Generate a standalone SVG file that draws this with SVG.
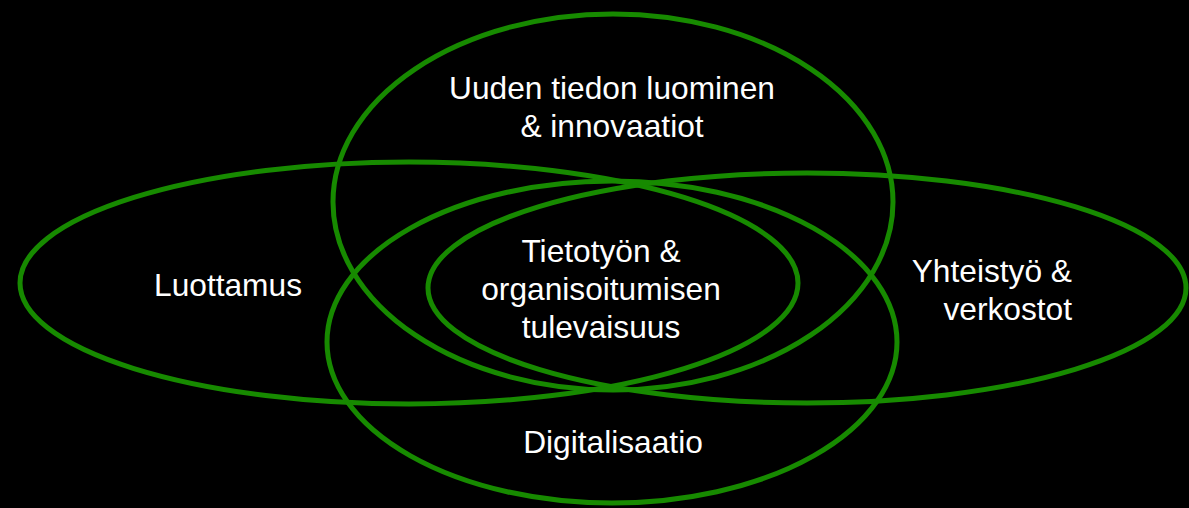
<svg xmlns="http://www.w3.org/2000/svg" width="1189" height="508" viewBox="0 0 1189 508">
  <style>
    .ring { fill: none; stroke: #178a00; stroke-width: 5; }
    .lbl { font-family: "Liberation Sans", Arial, sans-serif; font-size: 31.7px; fill: #ffffff; }
    .c { text-anchor: middle; }
    .e { text-anchor: end; }
  </style>
  <rect x="0" y="0" width="1189" height="508" fill="#000000"/>
  <g id="luottamus">
    <ellipse class="ring" cx="409" cy="283" rx="389" ry="121"/>
    <text class="lbl c" x="228" y="296">Luottamus</text>
  </g>
  <g id="yhteistyo">
    <ellipse class="ring" cx="807" cy="288" rx="379" ry="115"/>
    <text class="lbl e" x="1072" y="282">Yhteistyö &amp;</text>
    <text class="lbl e" x="1072" y="320">verkostot</text>
  </g>
  <g id="uuden-tiedon">
    <ellipse class="ring" cx="613" cy="202" rx="280" ry="188"/>
    <text class="lbl c" x="612" y="99">Uuden tiedon luominen</text>
    <text class="lbl c" x="612" y="137">&amp; innovaatiot</text>
  </g>
  <g id="digitalisaatio">
    <ellipse class="ring" cx="612" cy="342" rx="285" ry="161"/>
    <text class="lbl c" x="613" y="453">Digitalisaatio</text>
  </g>
  <g id="tietotyo">
    <text class="lbl c" x="601" y="262">Tietotyön &amp;</text>
    <text class="lbl c" x="601" y="300">organisoitumisen</text>
    <text class="lbl c" x="601" y="338">tulevaisuus</text>
  </g>
  <g id="connectors"></g>
</svg>
